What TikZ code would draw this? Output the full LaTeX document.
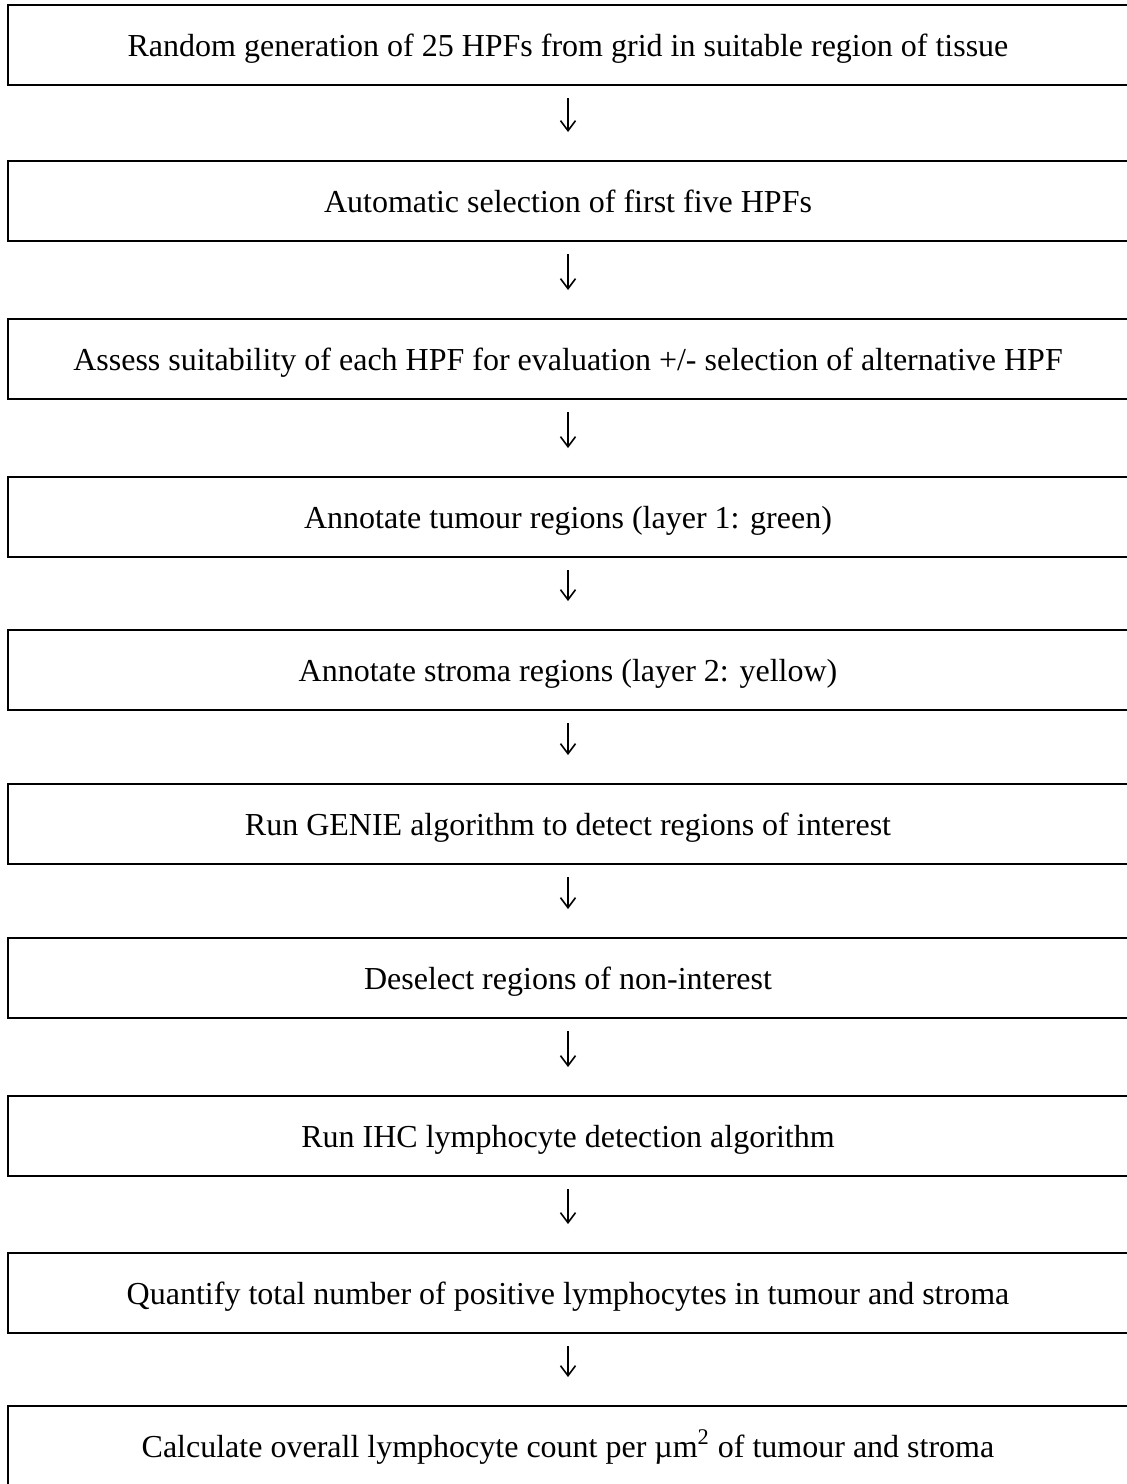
\documentclass[tikz,border=0pt]{standalone}
\usepackage{fontspec}
\setmainfont{Liberation Serif}
\usepackage{tikz}
\usetikzlibrary{arrows.meta}
\tikzset{stepbox/.style={draw, line width=1pt, minimum width=560pt, minimum height=40pt, inner sep=0pt, text height=11pt, text depth=0pt, font=\fontsize{16}{19}\selectfont}}
\tikzset{down/.style={line width=0.8pt, -{Straight Barb[length=5pt,width=7.5pt]}, shorten <=6pt, shorten >=14pt}}

\begin{document}
\begin{tikzpicture}[x=0.5pt,y=-0.5pt]
\useasboundingbox (0,0) rectangle (1127,1484);
\node[stepbox] (random)   at (568,45)   {Random generation of 25 HPFs from grid in suitable region of tissue};
\node[stepbox] (auto)     at (568,201)  {Automatic selection of first five HPFs};
\node[stepbox] (assess)   at (568,359)  {Assess suitability of each HPF for evaluation +/- selection of alternative HPF};
\node[stepbox] (tumour)   at (568,517)  {Annotate tumour regions (layer 1: green)};
\node[stepbox] (stroma)   at (568,670)  {Annotate stroma regions (layer 2: yellow)};
\node[stepbox] (genie)    at (568,824)  {Run GENIE algorithm to detect regions of interest};
\node[stepbox] (deselect) at (568,978)  {Deselect regions of non-interest};
\node[stepbox] (ihc)      at (568,1136) {Run IHC lymphocyte detection algorithm};
\node[stepbox] (quantify) at (568,1293) {Quantify total number of positive lymphocytes in tumour and stroma};
\node[stepbox] (calc)     at (568,1446) {Calculate overall lymphocyte count per µm\textsuperscript{2} of tumour and stroma};
% arrows between steps
\draw[down] (random) -- (auto);
\draw[down] (auto) -- (assess);
\draw[down] (assess) -- (tumour);
\draw[down] (tumour) -- (stroma);
\draw[down] (stroma) -- (genie);
\draw[down] (genie) -- (deselect);
\draw[down] (deselect) -- (ihc);
\draw[down] (ihc) -- (quantify);
\draw[down] (quantify) -- (calc);
\end{tikzpicture}
\end{document}
